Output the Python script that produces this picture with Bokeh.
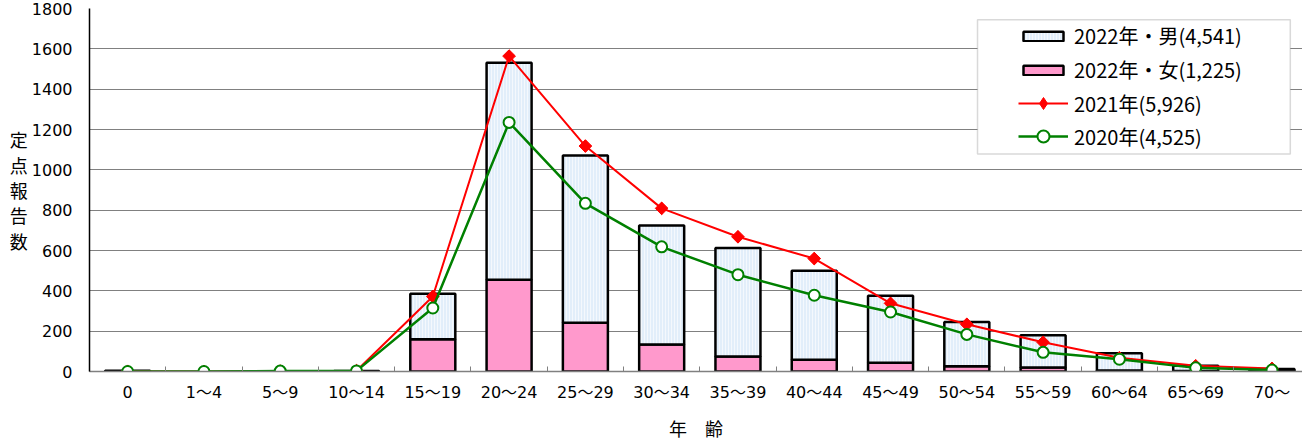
import numpy as np
from bokeh.plotting import figure
from bokeh.models import (Range1d, FixedTicker, Legend, LegendItem, BoxAnnotation,
                          ColumnDataSource, CDSView, BooleanFilter)
from bokeh.embed import file_html
from bokeh.resources import INLINE

# ---- data ----
categories = ["0", "1～4", "5～9", "10～14", "15～19", "20～24", "25～29", "30～34",
              "35～39", "40～44", "45～49", "50～54", "55～59", "60～64", "65～69", "70～"]
male_2022 = [3, 0, 1, 2, 225, 1076, 829, 590, 539, 442, 332, 220, 160, 86, 26, 10]
female_2022 = [1, 0, 0, 1, 160, 455, 242, 134, 74, 58, 44, 26, 20, 5, 2, 3]
total_2021 = [1, 0, 2, 4, 372, 1564, 1118, 809, 668, 560, 338, 234, 145, 68, 28, 15]
total_2020 = [0, 0, 2, 3, 315, 1235, 834, 618, 480, 378, 295, 184, 95, 61, 18, 7]
y_ticks = [0, 200, 400, 600, 800, 1000, 1200, 1400, 1600, 1800]
labels = ["2022年・男(4,541)", "2022年・女(1,225)", "2021年(5,926)", "2020年(4,525)"]

x_idx = list(range(len(categories)))
total_2022 = [m + f for m, f in zip(male_2022, female_2022)]

TICK_FONT = "'DejaVu Sans', 'Noto Sans CJK JP'"
JP_FONT = "'Noto Sans CJK JP'"

p = figure(width=1302, height=443, output_backend="svg", toolbar_location=None,
           x_range=Range1d(-0.5, 15.4), y_range=Range1d(0, 1800),
           min_border_left=89, min_border_right=0, min_border_top=8, min_border_bottom=71)
p.outline_line_color = None
p.background_fill_color = "white"

# axes
xa = p.xaxis[0]
xa.ticker = FixedTicker(ticks=x_idx, minor_ticks=[i - 0.5 for i in range(len(categories) + 1)])
xa.major_label_overrides = {i: c for i, c in enumerate(categories)}
xa.major_tick_line_color = None
xa.minor_tick_in = 5
xa.minor_tick_out = 0
xa.minor_tick_line_color = "#808080"
xa.axis_line_color = "#808080"
xa.axis_line_width = 1.5
xa.major_label_text_font = TICK_FONT
xa.major_label_text_font_size = "16px"
xa.major_label_text_color = "black"
xa.major_label_standoff = 5
xa.axis_label = "年　齢"
xa.axis_label_text_font = JP_FONT
xa.axis_label_text_font_size = "18px"
xa.axis_label_text_font_style = "normal"
xa.axis_label_text_color = "black"
xa.axis_label_standoff = 10

ya = p.yaxis[0]
ya.ticker = FixedTicker(ticks=y_ticks)
ya.major_tick_line_color = None
ya.minor_tick_line_color = None
ya.axis_line_color = "black"
ya.axis_line_width = 1.5
ya.major_label_text_font = TICK_FONT
ya.major_label_text_font_size = "16px"
ya.major_label_text_color = "black"
ya.major_label_standoff = 11
ya.axis_label = "定\n点\n報\n告\n数"
ya.axis_label_orientation = "horizontal"
ya.axis_label_text_font = JP_FONT
ya.axis_label_text_font_size = "18px"
ya.axis_label_text_font_style = "normal"
ya.axis_label_text_color = "black"
ya.axis_label_text_line_height = 0.98
ya.axis_label_standoff = 1

p.xgrid.visible = False
p.ygrid.ticker = FixedTicker(ticks=y_ticks)
p.ygrid.grid_line_color = "#808080"
p.ygrid.grid_line_width = 1

# bars
src = ColumnDataSource(dict(x=x_idx, male=male_2022, female=female_2022, total=total_2022))
view = CDSView(filter=BooleanFilter([t > 0 for t in total_2022]))
r_female = p.vbar(x="x", bottom=0, top="female", width=0.59, source=src, view=view,
                  fill_color="#ff99cc", line_color="black", line_width=2.5)
r_male = p.vbar(x="x", bottom="female", top="total", width=0.59, source=src, view=view,
                fill_color="#e2eefa", line_color="black", line_width=2.5,
                hatch_pattern="vertical_line", hatch_color="#f4f8fd", hatch_scale=3,
                hatch_weight=1)

# lines
r21_line = p.line(x_idx, total_2021, line_color="#ff0000", line_width=2)
# diamond drawn underneath the rotated squares (used as the legend symbol)
r21_diamond = p.scatter(x_idx, total_2021, marker="diamond", size=12,
                        fill_color="#ff0000", line_color="#ff0000")
r21_mark = p.scatter(x_idx, total_2021, marker="square", angle=np.pi / 4, size=9,
                     fill_color="#ff0000", line_color="#ff0000")
r20_line = p.line(x_idx, total_2020, line_color="#008000", line_width=2.5)
r20_mark = p.scatter(x_idx, total_2020, marker="circle", size=11, fill_color="white",
                     line_color="#008000", line_width=2)

# legend box + legends
box = BoxAnnotation(left=11.14, right=15.24, bottom=1078, top=1744,
                    fill_color="white", fill_alpha=1.0, line_color="#808080", line_width=1.5)
p.add_layout(box)

common = dict(padding=0, margin=0, glyph_width=50, label_height=20,
              label_standoff=6, label_text_font=JP_FONT, label_text_font_size="20px",
              label_text_color="black", border_line_color=None, background_fill_alpha=0)

legend_bars = Legend(items=[
    LegendItem(label=labels[0], renderers=[r_male]),
    LegendItem(label=labels[1], renderers=[r_female]),
], location=(929, 287), glyph_height=12, spacing=5, **common)
legend_lines = Legend(items=[
    LegendItem(label=labels[2], renderers=[r21_line, r21_diamond]),
    LegendItem(label=labels[3], renderers=[r20_line, r20_mark]),
], location=(929, 220), glyph_height=30, spacing=3, **common)
p.add_layout(legend_bars)
p.add_layout(legend_lines)

open("out.html", "w").write(file_html(p, INLINE))
